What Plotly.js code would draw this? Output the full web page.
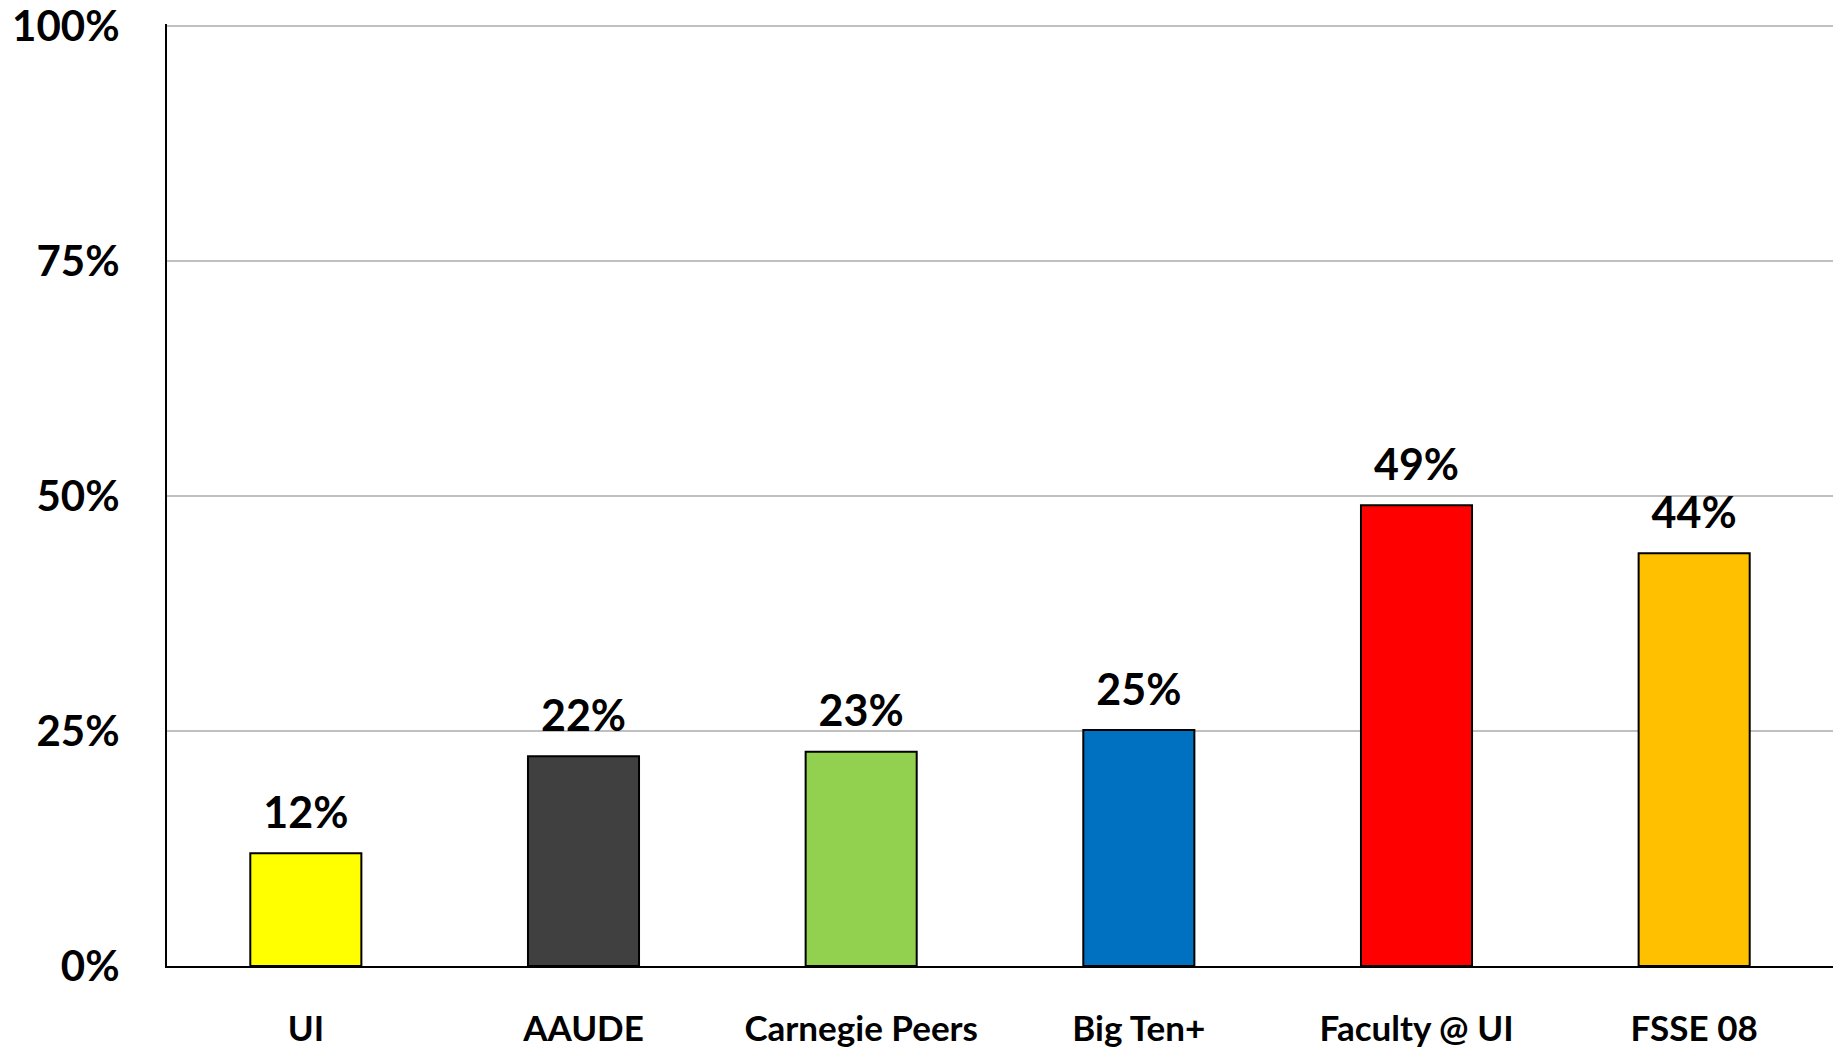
<!DOCTYPE html>
<html>
<head>
<meta charset="utf-8">
<script src="https://cdn.plot.ly/plotly-3.0.1.min.js"></script>
<style>
html,body{margin:0;padding:0;background:#fff;}
#chart{width:1833px;height:1052px;}
</style>
</head>
<body>
<div id="chart"></div>
<script>
const categories = ["UI", "AAUDE", "Carnegie Peers", "Big Ten+", "Faculty @ UI", "FSSE 08"];
const values = [0.12, 0.223, 0.228, 0.251, 0.49, 0.439];
const barColors = ["#FFFF00", "#404040", "#92D050", "#0070C0", "#FF0000", "#FFC000"];
const yTickVals = [0, 0.25, 0.5, 0.75, 1];
const yTickText = ["0%", "25%", "50%", "75%", "100%"];

const FONT = "Lato, 'Open Sans', sans-serif";

const bars = {
  type: "bar",
  x: categories,
  y: values,
  marker: {color: barColors, line: {color: "#000", width: 2}},
  width: 0.4,
  hoverinfo: "skip"
};

const labels = {
  type: "scatter",
  mode: "markers+text",
  x: categories,
  y: values,
  marker: {size: 22, color: "rgba(0,0,0,0)"},
  texttemplate: "%{y:.0%}",
  textposition: "top center",
  cliponaxis: false,
  textfont: {family: FONT, size: 43, color: "#000", weight: 700},
  hoverinfo: "skip"
};

const layout = {
  width: 1833,
  height: 1052,
  margin: {l: 167, r: 0, t: 24, b: 86},
  paper_bgcolor: "#fff",
  plot_bgcolor: "#fff",
  showlegend: false,
  bargap: 0.6,
  xaxis: {
    showline: true, linecolor: "#000", linewidth: 2,
    showgrid: false, ticks: "",
    tickfont: {family: FONT, size: 35, color: "#000", weight: 700},
    ticklabelstandoff: 31,
    ticklabeloverflow: "allow"
  },
  yaxis: {
    range: [0, 1.002],
    tickvals: yTickVals,
    ticktext: yTickText,
    showline: true, linecolor: "#000", linewidth: 2,
    showgrid: true, gridcolor: "#c0c0c0", gridwidth: 2,
    zeroline: false,
    ticks: "",
    tickfont: {family: FONT, size: 42, color: "#000", weight: 700},
    ticklabelstandoff: 37,
    ticklabeloverflow: "allow"
  }
};

Plotly.newPlot("chart", [bars, labels], layout, {displayModeBar: false, staticPlot: true});
</script>
</body>
</html>
